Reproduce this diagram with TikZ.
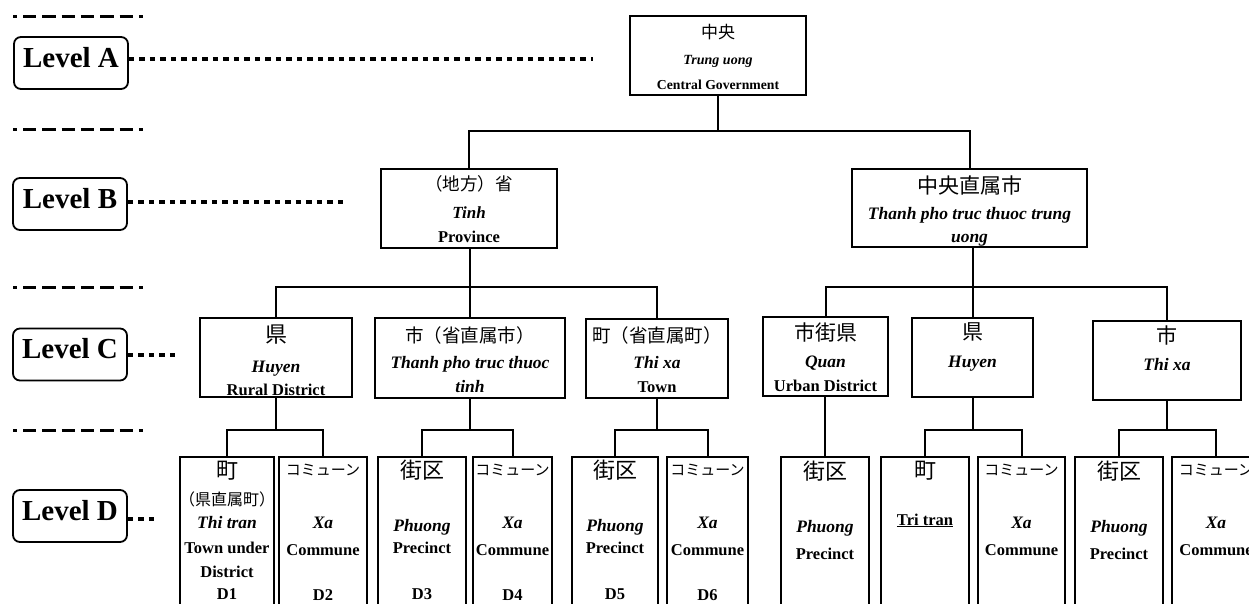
\documentclass[tikz,border=0pt]{standalone}
\usepackage{fontspec}
\setmainfont{Liberation Serif}
\newfontfamily\cjk{Noto Sans CJK JP}
\begin{document}
\begin{tikzpicture}[x=1pt,y=-1pt,
  orgbox/.style={draw,line width=2pt,rectangle,inner sep=0pt},
  lvl/.style={draw,line width=1.8pt,rounded corners=7pt,minimum width=114pt,minimum height=52pt,inner sep=0pt,
     font=\fontsize{29}{30}\selectfont\bfseries,text height=20pt,text depth=12pt},
  conn/.style={line width=2pt},
  dashln/.style={line width=3pt,dash pattern=on 13.3pt off 6pt,dash phase=9.3pt},
  dotln/.style={line width=4.5pt,dash pattern=on 5.5pt off 5pt},
  tcj/.style={font=\cjk\fontsize{#1}{#1}\selectfont,inner sep=0pt,anchor=center},
  tit/.style={font=\fontsize{#1}{#1}\selectfont\bfseries\itshape,inner sep=0pt,anchor=base},
  tbf/.style={font=\fontsize{#1}{#1}\selectfont\bfseries,inner sep=0pt,anchor=base},
]
\useasboundingbox (0,0) rectangle (1249,603);
\clip (0,0) rectangle (1249,603);

% dashed separators
\draw[dashln] (13,16) -- (143,16);
\draw[dashln] (13,129) -- (143,129);
\draw[dashln] (13,287) -- (143,287);
\draw[dashln] (13,430) -- (143,430);

% level labels
\node[lvl] (LA) at (71,63) {Level A};
\node[lvl] (LB) at (70,204) {Level B};
\node[lvl] (LC) at (70,354.5) {Level C};
\node[lvl] (LD) at (70,516) {Level D};
\coordinate (dA) at (593,59);
\coordinate (dB) at (348,202);
\coordinate (dC) at (180,355);
\coordinate (dD) at (157,519);
\draw[dotln] (LA.east |- dA) -- (dA);
\draw[dotln] (LB.east |- dB) -- (dB);
\draw[dotln] (LC.east |- dC) -- (dC);
\draw[dotln] (LD.east |- dD) -- (dD);

% level A
\node[orgbox,minimum width=176pt,minimum height=79pt] (C0) at (718,55.5) {};
\node[tcj=17] (C0a) at (718,32) {中央};
\node[tit=14] (C0b) at (718,64) {Trung uong};
\node[tbf=13.7] (C0c) at (718,89) {Central Government};

% level B
\node[orgbox,minimum width=176pt,minimum height=79pt] (B1) at (469,208.5) {};
\node[tcj=17.5] (B1a) at (469,184) {（地方）省};
\node[tit=17] (B1b) at (469,218) {Tinh};
\node[tbf=16.5] (B1c) at (469,242) {Province};

\node[orgbox,minimum width=235pt,minimum height=78pt] (B2) at (969.5,208) {};
\node[tcj=21] (B2a) at (969.5,185) {中央直属市};
\node[tit=17.5] (B2b) at (969.5,219) {Thanh pho truc thuoc trung};
\node[tit=17.5] (B2c) at (969.5,242) {uong};

% level C
\node[orgbox,minimum width=152pt,minimum height=79pt] (C1) at (276,357.5) {};
\node[tcj=22] (C1a) at (276,335) {県};
\node[tit=17.5] (C1b) at (276,372) {Huyen};
\node[tbf=16.5] (C1c) at (276,395) {Rural District};

\node[orgbox,minimum width=190pt,minimum height=80pt] (C2) at (470,358) {};
\node[tcj=18.5] (C2a) at (470,335) {市（省直属市）};
\node[tit=17.5] (C2b) at (470,368) {Thanh pho truc thuoc};
\node[tit=17.5] (C2c) at (470,392) {tinh};

\node[orgbox,minimum width=142pt,minimum height=79pt] (C3) at (657,358.5) {};
\node[tcj=18.5] (C3a) at (657,335) {町（省直属町）};
\node[tit=17.5] (C3b) at (657,368) {Thi xa};
\node[tbf=16.5] (C3c) at (657,392) {Town};

\node[orgbox,minimum width=125pt,minimum height=79pt] (C4) at (825.5,356.5) {};
\node[tcj=21] (C4a) at (825.5,332) {市街県};
\node[tit=17.5] (C4b) at (825.5,367) {Quan};
\node[tbf=16.5] (C4c) at (825.5,391) {Urban District};

\node[orgbox,minimum width=121pt,minimum height=79pt] (C5) at (972.5,357.5) {};
\node[tcj=21] (C5a) at (972.5,332) {県};
\node[tit=17.5] (C5b) at (972.5,367) {Huyen};

\node[orgbox,minimum width=148pt,minimum height=79pt] (C6) at (1167,360.5) {};
\node[tcj=21] (C6a) at (1167,335) {市};
\node[tit=17.5] (C6b) at (1167,370) {Thi xa};

% level D boxes
\foreach \n/\x/\w in {D1/227/94,D2/323/88,D3/422/88,D4/512.5/79,D5/615/86,D6/707.5/81,
                      D7/825/88,D8/925/88,D9/1021.5/87,D10/1119/88,D11/1216/88}{
  \node[orgbox,anchor=north,minimum width=\w pt,minimum height=200pt] (\n) at (\x,456) {};
}
% D1
\node[tcj=22] (D1a) at (227,470.5) {町};
\node[tcj=16] (D1b) at (227,499) {（県直属町）};
\node[tit=17.5] (D1c) at (227,528) {Thi tran};
\node[tbf=16.5] (D1d) at (227,553) {Town under};
\node[tbf=16.5] (D1e) at (227,577) {District};
\node[tbf=16.5] (D1f) at (227,599) {D1};
% D2
\node[tcj=15] (D2a) at (323,470) {コミューン};
\node[tit=17.5] (D2b) at (323,528) {Xa};
\node[tbf=16.5] (D2c) at (323,555) {Commune};
\node[tbf=16.5] (D2d) at (323,600) {D2};
% D3
\node[tcj=22] (D3a) at (422,470) {街区};
\node[tit=17.5] (D3b) at (422,531) {Phuong};
\node[tbf=16.5] (D3c) at (422,553) {Precinct};
\node[tbf=16.5] (D3d) at (422,599) {D3};
% D4
\node[tcj=15] (D4a) at (512.5,470) {コミューン};
\node[tit=17.5] (D4b) at (512.5,528) {Xa};
\node[tbf=16.5] (D4c) at (512.5,555) {Commune};
\node[tbf=16.5] (D4d) at (512.5,600) {D4};
% D5
\node[tcj=22] (D5a) at (615,470) {街区};
\node[tit=17.5] (D5b) at (615,531) {Phuong};
\node[tbf=16.5] (D5c) at (615,553) {Precinct};
\node[tbf=16.5] (D5d) at (615,599) {D5};
% D6
\node[tcj=15] (D6a) at (707.5,470) {コミューン};
\node[tit=17.5] (D6b) at (707.5,528) {Xa};
\node[tbf=16.5] (D6c) at (707.5,555) {Commune};
\node[tbf=16.5] (D6d) at (707.5,600) {D6};
% D7
\node[tcj=22] (D7a) at (825,471) {街区};
\node[tit=17.5] (D7b) at (825,532) {Phuong};
\node[tbf=16.5] (D7c) at (825,559) {Precinct};
% D8
\node[tcj=22] (D8a) at (925,471) {町};
\node[tbf=16.5] (D8b) at (925,525) {\underline{Tri tran}};
% D9
\node[tcj=15] (D9a) at (1021.5,470) {コミューン};
\node[tit=17.5] (D9b) at (1021.5,528) {Xa};
\node[tbf=16.5] (D9c) at (1021.5,555) {Commune};
% D10
\node[tcj=22] (D10a) at (1119,471) {街区};
\node[tit=17.5] (D10b) at (1119,532) {Phuong};
\node[tbf=16.5] (D10c) at (1119,559) {Precinct};
% D11
\node[tcj=15] (D11a) at (1216,470) {コミューン};
\node[tit=17.5] (D11b) at (1216,528) {Xa};
\node[tbf=16.5] (D11c) at (1216,555) {Commune};

% connectors
\coordinate (busA) at (718,131);
\coordinate (busB) at (0,287);
\coordinate (busD) at (0,430);
\draw[conn] (C0.south) -- (C0.south |- busA);
\draw[conn] (B1.north) |- (busA -| B2.north) -- (B2.north);

\draw[conn] (C2.north) -- (C2.north |- B1.south);
\draw[conn] (C1.north) |- (busB -| C3.north) -- (C3.north);
\draw[conn] (C5.north) -- (C5.north |- B2.south);
\draw[conn] (C4.north) |- (busB -| C6.north) -- (C6.north);

\draw[conn] (C1.south) -- (C1.south |- busD);
\draw[conn] (D1.north) |- (busD -| D2.north) -- (D2.north);
\draw[conn] (C2.south) -- (C2.south |- busD);
\draw[conn] (D3.north) |- (busD -| D4.north) -- (D4.north);
\draw[conn] (C3.south) -- (C3.south |- busD);
\draw[conn] (D5.north) |- (busD -| D6.north) -- (D6.north);
\draw[conn] (D7.north) -- (D7.north |- C4.south);
\draw[conn] (C5.south) -- (C5.south |- busD);
\draw[conn] (D8.north) |- (busD -| D9.north) -- (D9.north);
\draw[conn] (C6.south) -- (C6.south |- busD);
\draw[conn] (D10.north) |- (busD -| D11.north) -- (D11.north);
\end{tikzpicture}
\end{document}
